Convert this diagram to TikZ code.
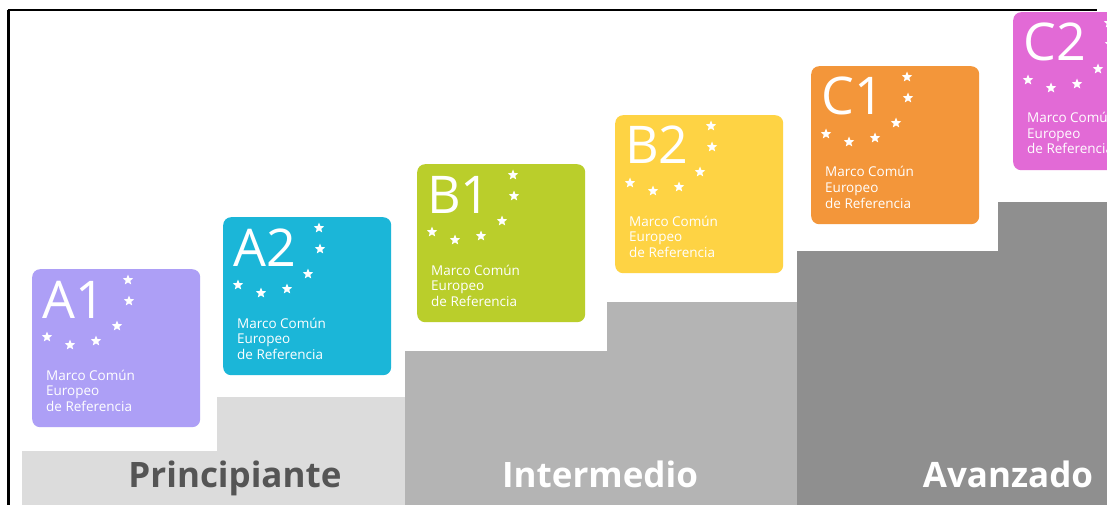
\documentclass[tikz,border=0pt]{standalone}
\usepackage{fontspec}
\setmainfont{Open Sans}
\usetikzlibrary{shapes.geometric,calc}
\definecolor{cA1}{HTML}{AD9FF6}
\definecolor{cA2}{HTML}{1BB6D8}
\definecolor{cB1}{HTML}{BACE2B}
\definecolor{cB2}{HTML}{FED344}
\definecolor{cC1}{HTML}{F3963A}
\definecolor{cC2}{HTML}{E26AD6}
\definecolor{gLight}{HTML}{DCDCDC}
\definecolor{gMid}{HTML}{B4B4B4}
\definecolor{gDark}{HTML}{8F8F8F}
\definecolor{txtDark}{HTML}{555555}
\tikzset{
  lvbox/.style={draw=none, rounded corners=8pt, minimum width=168pt, minimum height=158pt, anchor=north west, inner sep=0},
  biglab/.style={text=white, anchor=base west, inner sep=0, font=\fontsize{52}{52}\selectfont},
  smalltxt/.style={text=white, anchor=base west, inner sep=0, font=\fontsize{13.5}{15}\selectfont},
  starm/.style={star, star points=5, star point ratio=2.3, fill=white, draw=none, inner sep=0, minimum size=11pt},
  steplab/.style={anchor=base, inner sep=0, font=\fontsize{35}{35}\selectfont\bfseries},
}
\newcommand\levelbox[5]{%
  \node[lvbox, fill=#4] (#1) at (#2,#3) {};
  \node[biglab] (#1-lab) at ($(#1.north west)+(10,49)$) {#5};
  \node[smalltxt] (#1-t1) at ($(#1.north west)+(14,111)$) {Marco Común};
  \node[smalltxt] (#1-t2) at ($(#1.north west)+(14,126.5)$) {Europeo};
  \node[smalltxt] (#1-t3) at ($(#1.north west)+(14,142)$) {de Referencia};
  \foreach \sx/\sy [count=\k] in {96/11,97/32,85/57,64/72,38/76,15/68}
    \node[starm] (#1-s\k) at ($(#1.north west)+(\sx,\sy)$) {};
}
\begin{document}
\begin{tikzpicture}[x=1pt,y=-1pt]
\useasboundingbox (0,0) rectangle (1107,505);
\clip (0,0) rectangle (1107,505);
\fill[white] (0,0) rectangle (1107,505);
% steps
\fill[gLight] (22,505) -- (22,451) -- (217,451) -- (217,397) -- (405,397) -- (405,505) -- cycle;
\fill[gMid] (405,505) -- (405,351) -- (607,351) -- (607,302) -- (797,302) -- (797,505) -- cycle;
\fill[gDark] (797,505) -- (797,251) -- (998,251) -- (998,202) -- (1107,202) -- (1107,505) -- cycle;
% boxes
\levelbox{A1}{32}{269}{cA1}{A1}
\levelbox{A2}{223}{217}{cA2}{A2}
\levelbox{B1}{417}{164}{cB1}{B1}
\levelbox{B2}{615}{115}{cB2}{B2}
\levelbox{C1}{811}{66}{cC1}{C1}
\levelbox{C2}{1013}{12}{cC2}{C2}
% step labels
\node[steplab, text=txtDark] (pri) at (235,487) {Principiante};
\node[steplab, text=white] (int) at (600,487) {Intermedio};
\node[steplab, text=white] (ava) at (1008,487) {Avanzado};
% frame
\draw[black, line width=2.5pt] (8.5,10) -- (8.5,505);
\draw[black, line width=1.3pt] (7.5,10) -- (1097,10);
\end{tikzpicture}
\end{document}
